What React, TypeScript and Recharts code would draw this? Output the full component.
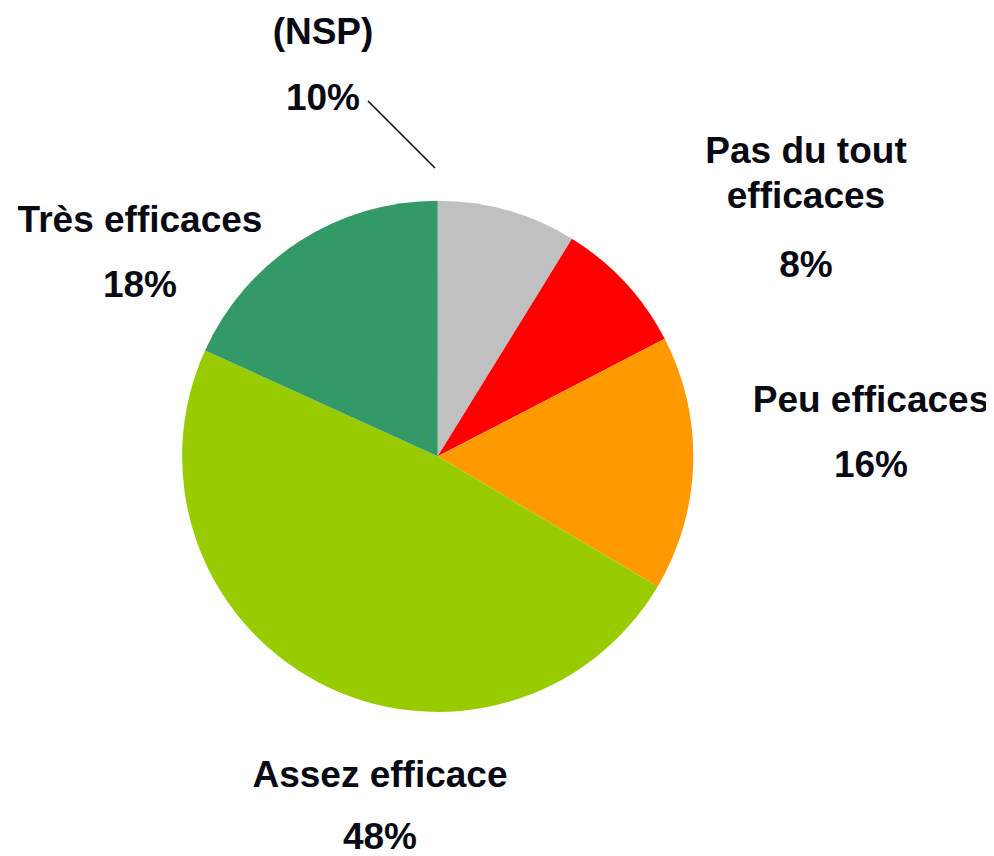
import React from 'react'
import { PieChart, Pie, Cell } from 'recharts'

// slices, clockwise from 12 o'clock
const categories = ['(NSP)', 'Pas du tout efficaces', 'Peu efficaces', 'Assez efficace', 'Très efficaces']
const shares = [8.8, 8.6, 16.1, 48.3, 18.2]
const percentLabels = ['10%', '8%', '16%', '48%', '18%']
const colors = ['#C0C0C0', '#FF0000', '#FF9900', '#99CC00', '#339966']

// label lines per slice (category name may wrap)
const nameLines = [['(NSP)'], ['Pas du tout', 'efficaces'], ['Peu efficaces'], ['Assez efficace'], ['Très efficaces']]

// layout of label blocks: x center, baselines of name lines, baseline of percent
const labelLayout = [
  { x: 323, names: [44], pct: 110 },
  { x: 806, names: [163, 208], pct: 277 },
  { x: 871, names: [412], pct: 477 },
  { x: 380, names: [787], pct: 849 },
  { x: 140, names: [232], pct: 297 },
]

const data = categories.map((name, i) => ({ name, value: shares[i] }))

const TEXT = '#0a0a14'
const FONT = '"Liberation Sans", Arial, sans-serif'

function SliceLabel(props: any) {
  const { index } = props
  const pos = labelLayout[index]
  return (
    <g>
      {nameLines[index].map((line, k) => (
        <text
          key={k}
          x={pos.x}
          y={pos.names[k]}
          textAnchor="middle"
          fill={TEXT}
          fontFamily={FONT}
          fontWeight="bold"
          fontSize={37}
        >
          {line}
        </text>
      ))}
      <text x={pos.x} y={pos.pct} textAnchor="middle" fill={TEXT} fontFamily={FONT} fontWeight="bold" fontSize={37}>
        {percentLabels[index]}
      </text>
      {index === 0 && <line x1={368} y1={101} x2={435} y2={168} stroke="#000" strokeWidth={1.5} />}
    </g>
  )
}

export default function App() {
  return (
    <div style={{ marginTop: -8, marginLeft: -8, width: 994, height: 856, background: '#fff' }}>
      <PieChart width={994} height={856} margin={{ top: 0, right: 0, bottom: 0, left: 0 }}>
        <Pie
          data={data}
          dataKey="value"
          nameKey="name"
          cx={437.7}
          cy={456.3}
          outerRadius={255.6}
          startAngle={90}
          endAngle={-270}
          stroke="none"
          label={SliceLabel}
          labelLine={false}
          isAnimationActive={false}
        >
          {data.map((entry, index) => (
            <Cell key={`cell-${index}`} fill={colors[index]} />
          ))}
        </Pie>
      </PieChart>
    </div>
  )
}
